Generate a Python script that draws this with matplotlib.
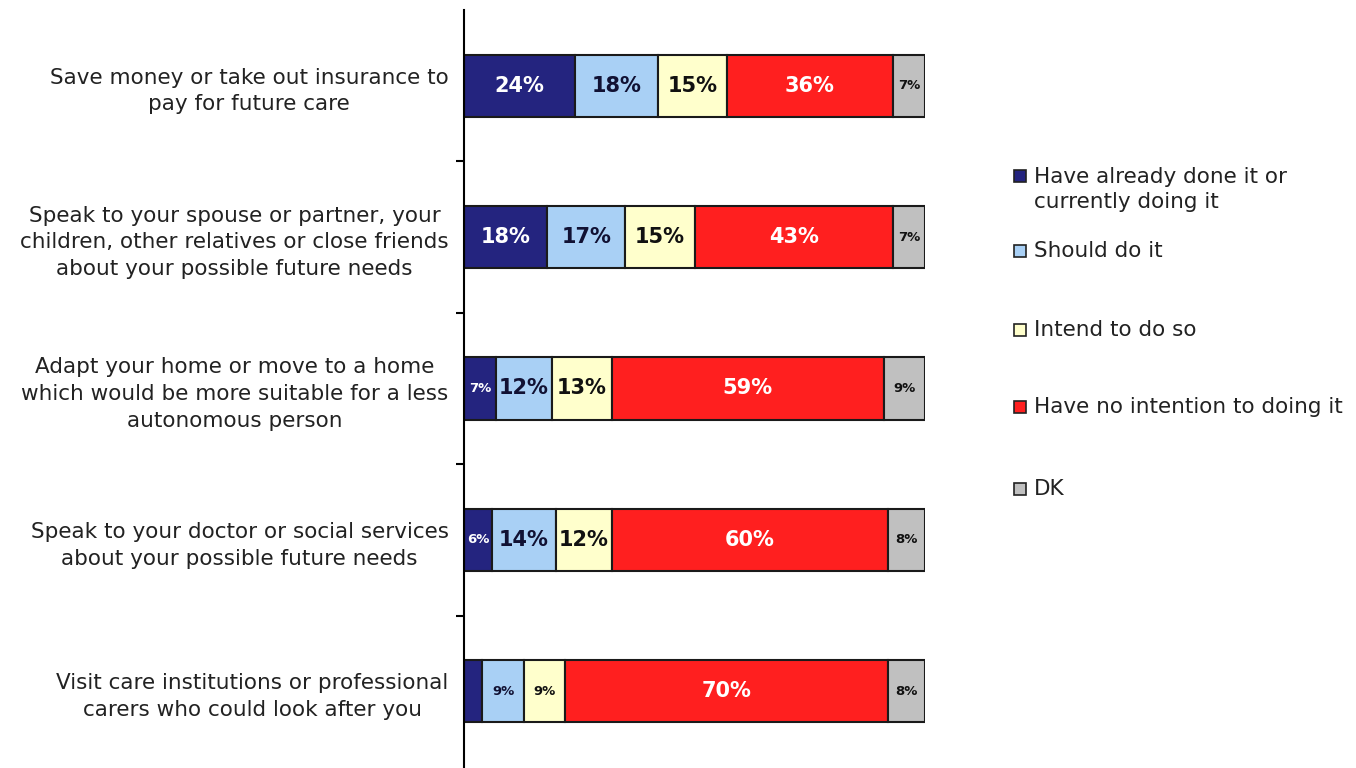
import matplotlib
matplotlib.use("Agg")
import matplotlib.pyplot as plt
from matplotlib.patches import Rectangle
import numpy as np

categories = [
    "Save money or take out insurance to\npay for future care",
    "Speak to your spouse or partner, your\nchildren, other relatives or close friends\nabout your possible future needs",
    "Adapt your home or move to a home\nwhich would be more suitable for a less\nautonomous person",
    "Speak to your doctor or social services\nabout your possible future needs",
    "Visit care institutions or professional\ncarers who could look after you",
]
series_names = [
    "Have already done it or\ncurrently doing it",
    "Should do it",
    "Intend to do so",
    "Have no intention to doing it",
    "DK",
]
already = [24, 18, 7, 6, 4]
should = [18, 17, 12, 14, 9]
intend = [15, 15, 13, 12, 9]
no_intention = [36, 43, 59, 60, 70]
dk = [7, 7, 9, 8, 8]

series = [already, should, intend, no_intention, dk]
colors = ["#24247f", "#a9d0f5", "#ffffcc", "#ff1f1f", "#c0c0c0"]
text_colors = ["white", "#111133", "#111111", "white", "#111111"]

fig = plt.figure(figsize=(13.56, 7.68), dpi=100)
ax = fig.add_axes([464/1356, 1/768, 461/1356, 757/768])

n = len(categories)
y = np.arange(n)
left = np.zeros(n)
bar_h = 0.41
for vals, col, tc in zip(series, colors, text_colors):
    vals = np.array(vals, dtype=float)
    ax.barh(y, vals, left=left, height=bar_h, color=col, edgecolor="#1a1a1a", linewidth=1.5)
    for yi, (l, v) in enumerate(zip(left, vals)):
        if v < 5:
            continue
        fs = 9.5 if v < 10 else 15
        ax.text(l + v / 2, yi, f"{int(v)}%", ha="center", va="center",
                color=tc, fontsize=fs, fontweight="bold", family="DejaVu Sans")
    left += vals

ax.set_xlim(0, 100)
ax.set_ylim(n - 0.5, -0.5)
ax.set_yticks(y)
ax.set_yticklabels(categories, fontsize=15.5, linespacing=1.42, color="#222222")
for t in ax.get_yticklabels():
    t.set_multialignment("center")
ax.tick_params(axis="y", which="major", length=0, pad=11)
ax.set_yticks(np.arange(0.5, n - 0.5, 1), minor=True)
ax.tick_params(axis="y", which="minor", length=6, width=1.5, direction="out")
ax.set_xticks([])
for s in ["top", "right", "bottom"]:
    ax.spines[s].set_visible(False)
ax.spines["left"].set_linewidth(1.5)

# legend
leg_y = [176, 251, 330, 407, 489]
for name, col, yy in zip(series_names, colors, leg_y):
    fig.patches.append(Rectangle((1014 / 1356, 1 - (yy + 6) / 768), 12 / 1356, 12 / 768,
                                 transform=fig.transFigure, facecolor=col,
                                 edgecolor="#222222", linewidth=1.2))
    if "\n" in name:
        fig.text(1034 / 1356, 1 - (yy - 9) / 768, name, ha="left", va="top",
                 fontsize=15.5, linespacing=1.32, color="#222222")
    else:
        fig.text(1034 / 1356, 1 - yy / 768, name, ha="left", va="center",
                 fontsize=15.5, color="#222222")

fig.savefig("out.png", dpi=100)
